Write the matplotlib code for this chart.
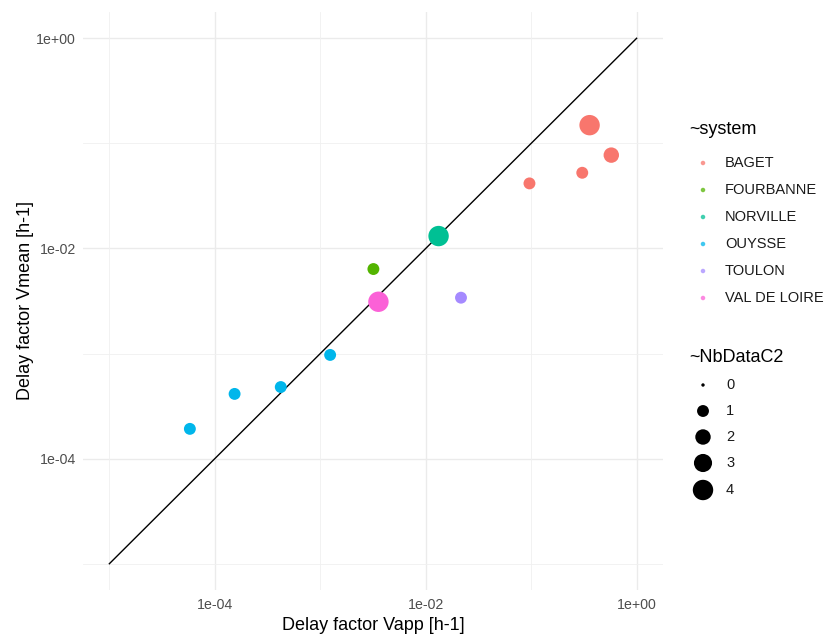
import numpy as np
import matplotlib
matplotlib.use("Agg")
import matplotlib.pyplot as plt

plt.rcParams['font.family'] = ['Liberation Sans', 'DejaVu Sans']

# ---- data ----
systems = ["BAGET", "FOURBANNE", "NORVILLE", "OUYSSE", "TOULON", "VAL DE LOIRE"]
colors = ["#F8766D", "#53B400", "#00C094", "#00B6EB", "#A58AFF", "#FB61D7"]

baget_vapp = [0.358, 0.575, 0.305, 0.0963]
baget_vmean = [0.149, 0.0773, 0.0525, 0.0416]
baget_nb = [4, 2, 1, 1]

fourbanne_vapp = [0.00319]
fourbanne_vmean = [0.00637]
fourbanne_nb = [1]

norville_vapp = [0.01324]
norville_vmean = [0.01312]
norville_nb = [4]

ouysse_vapp = [0.00124, 0.000422, 0.000154, 5.8e-5]
ouysse_vmean = [0.00097, 0.00048, 0.000413, 0.000192]
ouysse_nb = [1, 1, 1, 1]

toulon_vapp = [0.0216]
toulon_vmean = [0.0034]
toulon_nb = [1]

valdeloire_vapp = [0.00356]
valdeloire_vmean = [0.00311]
valdeloire_nb = [4]

identity_line = [1e-5, 1.0]
size_levels = [0, 1, 2, 3, 4]

x_ticks = [1e-4, 1e-2, 1e0]
x_tick_labels = ["1e-04", "1e-02", "1e+00"]
y_ticks = [1e-4, 1e-2, 1e0]
y_tick_labels = ["1e-04", "1e-02", "1e+00"]
minor_breaks = [1e-5, 1e-3, 1e-1]

series = [
    (baget_vapp, baget_vmean, baget_nb),
    (fourbanne_vapp, fourbanne_vmean, fourbanne_nb),
    (norville_vapp, norville_vmean, norville_nb),
    (ouysse_vapp, ouysse_vmean, ouysse_nb),
    (toulon_vapp, toulon_vmean, toulon_nb),
    (valdeloire_vapp, valdeloire_vmean, valdeloire_nb),
]

DPI = 100
W, H = 824, 637


def marker_area(n):
    n = np.asarray(n, dtype=float)
    d_px = 3.4 * (1 + 5 * np.sqrt(n / 4.0))
    return (d_px * 72.0 / DPI) ** 2


fig = plt.figure(figsize=(W / DPI, H / DPI), dpi=DPI)
left, right, top, bottom = 83, 663, 12, 590
ax = fig.add_axes([left / W, 1 - bottom / H, (right - left) / W, (bottom - top) / H])
ax.set_xscale("log")
ax.set_yscale("log")
lo, hi = 10 ** -5.25, 10 ** 0.25
ax.set_xlim(lo, hi)
ax.set_ylim(lo, hi)

for spine in ax.spines.values():
    spine.set_visible(False)
ax.set_facecolor("white")

for v in x_ticks:
    ax.axvline(v, color="#EBEBEB", lw=1.0, zorder=0)
for v in y_ticks:
    ax.axhline(v, color="#EBEBEB", lw=1.0, zorder=0)
for v in minor_breaks:
    ax.axvline(v, color="#F0F0F0", lw=0.6, zorder=0)
    ax.axhline(v, color="#F0F0F0", lw=0.6, zorder=0)

ax.set_xticks(x_ticks)
ax.set_xticklabels(x_tick_labels)
ax.set_yticks(y_ticks)
ax.set_yticklabels(y_tick_labels)
ax.minorticks_off()
ax.tick_params(axis="x", length=0, labelsize=10.2, labelcolor="#4D4D4D", pad=6)
ax.tick_params(axis="y", length=0, labelsize=10.2, labelcolor="#4D4D4D", pad=5)

ax.plot(identity_line, identity_line, color="black", lw=1.0, zorder=2)

for (xs, ys, nb), c in zip(series, colors):
    ax.scatter(xs, ys, s=marker_area(nb), color=c, edgecolors="none", zorder=3)

ax.set_xlabel("Delay factor Vapp [h-1]", fontsize=13, color="black", labelpad=3)
ax.set_ylabel("Delay factor Vmean [h-1]", fontsize=13, color="black", labelpad=2)

# ---- legends (pixel-coordinate overlay) ----
lax = fig.add_axes([0, 0, 1, 1], facecolor="none")
lax.set_xlim(0, W)
lax.set_ylim(H, 0)
lax.axis("off")

lax.text(689, 130, "~system", fontsize=13, va="center", ha="left")
sys_y = [163, 190, 217, 244, 271, 298]
for name, c, yy in zip(systems, colors, sys_y):
    lax.scatter([703], [yy], s=(4.5 * 72 / DPI) ** 2, color=c, alpha=0.75, edgecolors="none")
    lax.text(725, yy, name, fontsize=10.5, va="center", ha="left", color="#1A1A1A")

lax.text(689, 358, "~NbDataC2", fontsize=13, va="center", ha="left")
size_y = [385, 411, 437, 463, 490]
for lvl, yy in zip(size_levels, size_y):
    lax.scatter([703], [yy], s=marker_area(lvl), color="black", edgecolors="none")
    lax.text(726, yy, str(lvl), fontsize=10.5, va="center", ha="left", color="#1A1A1A")

fig.savefig("out.png", dpi=DPI)
